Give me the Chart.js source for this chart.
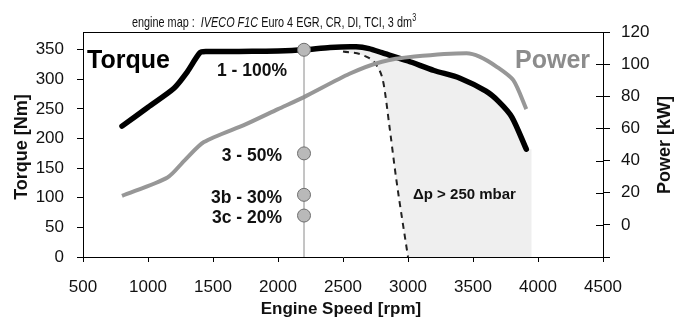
<!DOCTYPE html>
<html>
<head>
<meta charset="utf-8">
<script src="https://cdn.jsdelivr.net/npm/chart.js@4/dist/chart.umd.min.js"></script>
<style>
  body { margin: 0; background: #fff; }
  #wrap { width: 687px; height: 320px; position: relative; }
</style>
</head>
<body>
<div id="wrap"><canvas id="engineMap"></canvas></div>
<script>
// full load torque [Nm]
const torqueRpm = [800, 1000, 1200, 1300, 1400, 1450, 1600, 1800, 2000, 2200, 2400, 2600, 2700, 2800, 3000, 3200, 3400, 3600, 3700, 3800, 3910];
const torqueNm  = [221, 253, 285, 312, 345, 347, 347, 347.5, 348, 350, 354, 355, 352, 345, 331, 315, 302, 280, 262, 236, 182];

// full load power [kW]
const powerRpm = [800, 1150, 1280, 1430, 1750, 2000, 2200, 2550, 2800, 3050, 3450, 3550, 3680, 3810, 3910];
const powerKw  = [18, 29.5, 40, 51.5, 62.5, 72, 79.5, 94, 101.5, 104.7, 106.8, 104.7, 98.5, 90, 72];

// limit line, dp > 250 mbar
const limitRpm = [2500, 2650, 2760, 2810, 2860, 2910, 3000];
const limitNm  = [347, 341, 323, 295, 216, 131, 0];
const limitEdgeRpm = 3950;

// operating points at 2200 rpm
const pointRpm = 2200;
const pointNm = [350, 175, 105, 70];
const pointLabels = ['1 - 100%', '3 - 50%', '3b - 30%', '3c - 20%'];

const xTicks = [500, 4500, 500];   // min, max, step
const yTicks = [0, 380, 50];
const y2Ticks = [-20, 120, 20];

const FONT = '"Liberation Sans", Arial, sans-serif';
const toXY = (xs, ys) => xs.map((x, i) => ({ x: x, y: ys[i] }));

// shaded area: limit line, then edge, then back along the torque curve
const shadeTorque = toXY(torqueRpm, torqueNm).filter(p => p.x > limitRpm[0]).reverse();
const shadeArea = toXY(limitRpm, limitNm)
    .concat([{ x: limitEdgeRpm, y: 0 }, { x: limitEdgeRpm, y: torqueNm[torqueNm.length - 1] }])
    .concat(shadeTorque);

const textPlugin = {
    id: 'texts',
    afterDraw(chart) {
        const ctx = chart.ctx;
        const a = chart.chartArea;
        const xs = chart.scales.x, ys = chart.scales.y, y2 = chart.scales.y2;
        ctx.save();

        // frame top
        ctx.strokeStyle = '#000';
        ctx.lineWidth = 1;
        ctx.beginPath();
        ctx.moveTo(a.left, a.top + 0.5);
        ctx.lineTo(a.right, a.top + 0.5);
        ctx.stroke();
        // right axis ticks cross inside too
        y2.ticks.forEach(t => {
            const py = Math.round(y2.getPixelForValue(t.value)) + 0.5;
            ctx.beginPath();
            ctx.moveTo(a.right - 7, py);
            ctx.lineTo(a.right, py);
            ctx.stroke();
        });

        // title, squeezed to the narrow width of the original
        ctx.fillStyle = '#111';
        ctx.textBaseline = 'alphabetic';
        ctx.textAlign = 'left';
        const nf = '15px ' + FONT;
        const itf = 'italic 15px ' + FONT;
        const parts = [[nf, 'engine map :  '], [itf, 'IVECO F1C'], [nf, ' Euro 4 EGR, CR, DI, TCI, 3 dm']];
        let w = 0;
        parts.forEach(p => { ctx.font = p[0]; w += ctx.measureText(p[1]).width; });
        ctx.save();
        ctx.translate(132, 27);
        ctx.scale(280 / w, 1);
        let tx = 0;
        parts.forEach(p => {
            ctx.font = p[0];
            ctx.fillText(p[1], tx, 0);
            tx += ctx.measureText(p[1]).width;
        });
        ctx.font = '10px ' + FONT;
        ctx.fillText('3', tx + 0.5, -6);
        ctx.restore();

        // series names
        ctx.textBaseline = 'middle';
        ctx.font = 'bold 25px ' + FONT;
        ctx.fillStyle = '#000';
        ctx.fillText('Torque', 87, 61);
        ctx.fillStyle = '#8c8c8c';
        ctx.fillText('Power', 515, 61);

        // operating point labels
        ctx.fillStyle = '#111';
        ctx.font = 'bold 17.5px ' + FONT;
        ctx.textAlign = 'right';
        const px = xs.getPixelForValue(pointRpm);
        pointLabels.forEach((lab, i) => {
            const py = ys.getPixelForValue(pointNm[i]);
            if (i === 0) ctx.fillText(lab, px - 17, py + 21);
            else ctx.fillText(lab, px - 22, py + 3);
        });

        ctx.textAlign = 'left';
        ctx.font = 'bold 15px ' + FONT;
        ctx.fillText('\u0394p > 250 mbar', 413, 195);

        // axis titles
        ctx.fillStyle = '#111';
        ctx.font = 'bold 17px ' + FONT;
        ctx.textAlign = 'center';
        ctx.fillText('Engine Speed [rpm]', 341, 309);
        ctx.font = 'bold 18px ' + FONT;
        ctx.translate(22, 147);
        ctx.rotate(-Math.PI / 2);
        ctx.fillText('Torque [Nm]', 0, 0);
        ctx.restore();
        ctx.save();
        ctx.fillStyle = '#111';
        ctx.font = 'bold 18px ' + FONT;
        ctx.textAlign = 'center';
        ctx.textBaseline = 'middle';
        ctx.translate(665, 145);
        ctx.rotate(-Math.PI / 2);
        ctx.fillText('Power [kW]', 0, 0);
        ctx.restore();
    }
};

const tickFont = { family: FONT, size: 17 };
const axisGrid = { drawOnChartArea: false, drawTicks: true, tickLength: 6, color: '#000' };

new Chart(document.getElementById('engineMap'), {
    type: 'line',
    data: {
        datasets: [
            {
                label: 'load points',
                data: pointNm.map(v => ({ x: pointRpm, y: v })),
                showLine: false,
                pointRadius: 6.5,
                pointBackgroundColor: '#b9b9b9',
                pointBorderColor: '#6e6e6e',
                pointBorderWidth: 1,
                yAxisID: 'y',
            },
            {
                label: 'speed 2200',
                data: [{ x: pointRpm, y: 0 }, { x: pointRpm, y: pointNm[0] }],
                borderColor: '#8a8a8a',
                borderWidth: 1,
                pointRadius: 0,
                yAxisID: 'y',
            },
            {
                label: 'Power',
                data: toXY(powerRpm, powerKw),
                borderColor: '#979797',
                borderWidth: 4,
                pointRadius: 0,
                tension: 0.25,
                yAxisID: 'y2',
            },
            {
                label: 'Torque',
                data: toXY(torqueRpm, torqueNm),
                borderColor: '#000',
                borderWidth: 5.5,
                borderCapStyle: 'round',
                pointRadius: 0,
                tension: 0.25,
                yAxisID: 'y',
            },
            {
                label: 'limit',
                data: toXY(limitRpm, limitNm),
                borderColor: '#222',
                borderWidth: 2,
                borderDash: [6, 5],
                pointRadius: 0,
                cubicInterpolationMode: 'monotone',
                yAxisID: 'y',
            },
            {
                label: 'dp area',
                data: shadeArea,
                borderWidth: 0,
                borderColor: 'rgba(0,0,0,0)',
                backgroundColor: '#efefef',
                fill: 'shape',
                pointRadius: 0,
                tension: 0,
                yAxisID: 'y',
            },
        ]
    },
    options: {
        responsive: true,
        maintainAspectRatio: false,
        animation: false,
        layout: { padding: { top: 32, left: 0, right: 0, bottom: 0 } },
        plugins: {
            legend: { display: false },
            tooltip: { enabled: false },
        },
        scales: {
            x: {
                type: 'linear',
                min: xTicks[0], max: xTicks[1],
                ticks: { stepSize: xTicks[2], font: tickFont, color: '#111', padding: 15, maxRotation: 0, callback: v => String(v) },
                grid: Object.assign({}, axisGrid, { tickLength: 5 }),
                border: { color: '#000', width: 1 },
                afterFit: s => { s.height = 63; },
            },
            y: {
                position: 'left',
                min: yTicks[0], max: yTicks[1],
                ticks: { stepSize: yTicks[2], includeBounds: false, font: tickFont, color: '#111', padding: 13 },
                grid: axisGrid,
                border: { color: '#000', width: 1 },
                afterFit: s => { s.width = 83; },
            },
            y2: {
                position: 'right',
                min: y2Ticks[0], max: y2Ticks[1],
                ticks: {
                    stepSize: y2Ticks[2], font: tickFont, color: '#111', padding: 11,
                    callback: v => (v < 0 ? '' : v),
                },
                grid: Object.assign({}, axisGrid, { tickLength: 7 }),
                border: { color: '#000', width: 1 },
                afterFit: s => { s.width = 84; },
            },
        }
    },
    plugins: [textPlugin]
});
</script>
</body>
</html>
